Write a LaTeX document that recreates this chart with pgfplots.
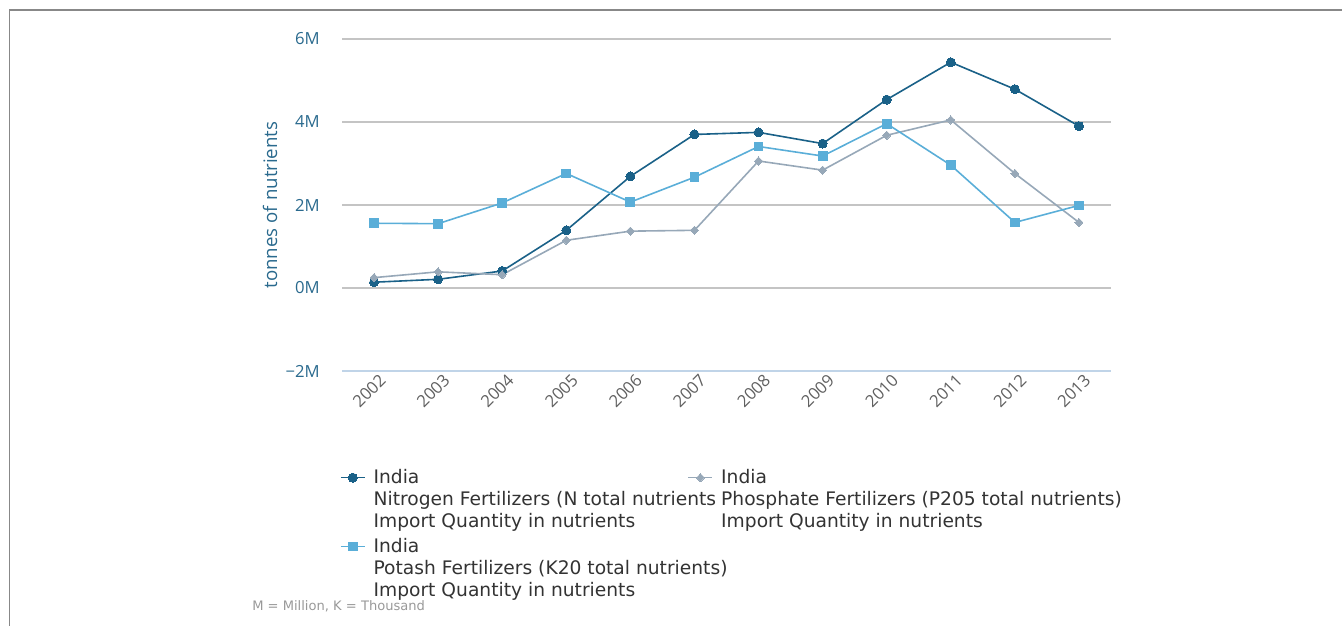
\documentclass[border=0pt]{standalone}
\usepackage{fontspec}
\setmainfont{Open Sans}
\newfontfamily\legfont{DejaVu Sans}
\usepackage{pgfplots}
\pgfplotsset{compat=1.18}
\definecolor{cN}{HTML}{1A6188}
\definecolor{cP}{HTML}{97A8B8}
\definecolor{cK}{HTML}{5AAED8}
\definecolor{ylab}{HTML}{2A6A8E}
\definecolor{gridc}{HTML}{C4C4C4}
\definecolor{xax}{HTML}{C0D4E8}
\definecolor{xtl}{HTML}{606060}
\definecolor{frame}{HTML}{888888}
\definecolor{foot}{HTML}{999999}
\definecolor{legt}{HTML}{333333}

\begin{document}
\begin{tikzpicture}
\path[use as bounding box] (0pt,0pt) rectangle (1006.5pt,-468.75pt);
\begin{scope}[x=0.75pt,y=-0.75pt]
\draw[frame, line width=1.4pt] (9.5,626) -- (9.5,10) -- (1342,10);
\node[anchor=west, foot, inner sep=0pt, font=\legfont\fontsize{9.8}{12}\selectfont] at (252,606) {M = Million, K = Thousand};
\end{scope}
\begin{axis}[
  at={(256.5pt,-29.25pt)}, anchor=north west,
  scale only axis, width=576.75pt, height=249pt,
  xmin=2001.5, xmax=2013.5, ymin=-2, ymax=6,
  axis x line*=bottom, axis y line*=left,
  x axis line style={draw=xax, line width=1.2pt},
  y axis line style={draw=none},
  xtick={2002,2003,2004,2005,2006,2007,2008,2009,2010,2011,2012,2013},
  xticklabels={2002,2003,2004,2005,2006,2007,2008,2009,2010,2011,2012,2013},
  major x tick style={draw=none},
  tick align=inside,
  extra x ticks={2001.5,2002.5,2003.5,2004.5,2005.5,2006.5,2007.5,2008.5,2009.5,2010.5,2011.5,2012.5,2013.5},
  extra x tick labels={},
  extra x tick style={tick align=outside, major tick length=9.75pt, tick style={draw=xax, line width=1.2pt}},
  xticklabel style={xshift=6.5pt, yshift=-4.7pt, rotate=45, anchor=east, inner sep=0pt, text=xtl, font=\fontsize{12.5}{15}\selectfont},
  ytick={-2,0,2,4,6},
  yticklabels={−2M,0M,2M,4M,6M},
  ytick style={draw=none},
  yticklabel style={text=ylab, font=\fontsize{12.5}{15}\selectfont, inner sep=0pt, xshift=-16.5pt},
  ymajorgrids, grid style={draw=gridc, line width=0.9pt},
  ylabel={tonnes of nutrients},
  every axis y label/.style={at={(axis description cs:-0.0936,0.5)}, rotate=90, anchor=center, text=ylab, font=\fontsize{14}{16}\selectfont},
  legend columns=2,
  legend image code/.code={\draw[mark repeat=2,mark phase=2,yshift=37.5pt] plot coordinates {(0pt,0pt) (9pt,0pt) (18pt,0pt)};},
  legend style={at={(axis description cs:-0.0026,-0.285)}, anchor=north west, draw=none, fill=none, inner sep=0pt, outer sep=0pt,
    column sep=0pt, row sep=1.5pt, font=\legfont\fontsize{14}{16.5}\selectfont, text=legt,
    cells={anchor=base west, inner sep=0pt},
    /tikz/every odd column/.append style={column sep=4pt}},
]
\addplot[cN, line width=1.2pt, mark=*, mark size=3.4pt, mark options={solid, fill=cN, draw=cN, line width=0pt}] coordinates {
(2002,0.14) (2003,0.21) (2004,0.41) (2005,1.39) (2006,2.69) (2007,3.70)
(2008,3.75) (2009,3.48) (2010,4.54) (2011,5.44) (2012,4.79) (2013,3.90)};
\addlegendentry{\makebox[233.5pt][l]{\begin{tabular}[b]{@{}l@{}}India\\Nitrogen Fertilizers (N total nutrients\\Import Quantity in nutrients\end{tabular}}}
\addplot[cP, line width=1.2pt, mark=diamond*, mark size=3.1pt, mark options={solid, fill=cP, draw=cP, line width=0pt, xscale=1.3}] coordinates {
(2002,0.25) (2003,0.39) (2004,0.32) (2005,1.15) (2006,1.37) (2007,1.39)
(2008,3.06) (2009,2.84) (2010,3.68) (2011,4.05) (2012,2.76) (2013,1.58)};
\addlegendentry{\begin{tabular}[b]{@{}l@{}}India\\Phosphate Fertilizers (P205 total nutrients)\\Import Quantity in nutrients\end{tabular}}
\addplot[cK, line width=1.2pt, mark=square*, mark size=3.3pt, mark options={solid, fill=cK, draw=cK, line width=0pt}] coordinates {
(2002,1.56) (2003,1.55) (2004,2.05) (2005,2.76) (2006,2.07) (2007,2.67)
(2008,3.41) (2009,3.18) (2010,3.96) (2011,2.96) (2012,1.58) (2013,1.99)};
\addlegendentry{\makebox[233.5pt][l]{\begin{tabular}[b]{@{}l@{}}India\\Potash Fertilizers (K20 total nutrients)\\Import Quantity in nutrients\end{tabular}}}
\end{axis}
\end{tikzpicture}
\end{document}
